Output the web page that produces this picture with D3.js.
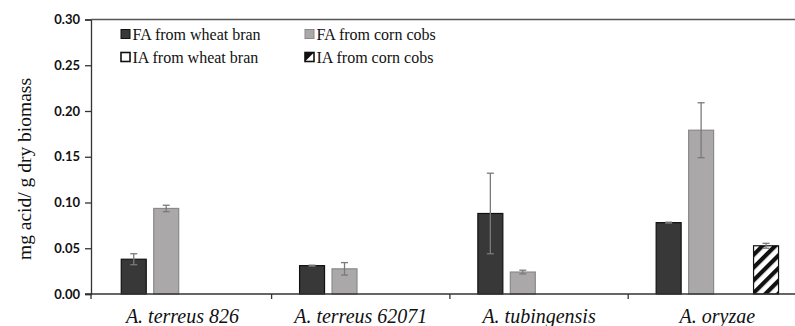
<!DOCTYPE html>
<html>
<head>
<meta charset="utf-8">
<script src="https://cdn.jsdelivr.net/npm/d3@7"></script>
<style>
  body { margin: 0; background: #fff; }
  svg { display: block; }
  .ytick text { font: bold 13px Lato, "Open Sans", sans-serif; fill: #111; }
</style>
</head>
<body>
<div id="chart"></div>
<script>
// data
var strains = ['A. terreus 826', 'A. terreus 62071', 'A. tubingensis', 'A. oryzae'];
var series = ['FA from wheat bran', 'FA from corn cobs', 'IA from wheat bran', 'IA from corn cobs'];
var faWheat = [0.038, 0.031, 0.088, 0.078];
var faWheatErr = [0.006, 0.0005, 0.044, 0.0005];
var faCorn = [0.0935, 0.0275, 0.024, 0.179];
var faCornErr = [0.0035, 0.0068, 0.002, 0.030];
var iaWheat = [0, 0, 0, 0];
var iaWheatErr = [0, 0, 0, 0];
var iaCorn = [0, 0, 0, 0.0527];
var iaCornErr = [0, 0, 0, 0.0027];
var yTicks = [0, 0.05, 0.10, 0.15, 0.20, 0.25, 0.30];

var W = 795, H = 326;
var serif = '"Liberation Serif", "Times New Roman", "DejaVu Serif", serif';
var svg = d3.select('#chart').append('svg').attr('width', W).attr('height', H);

var defs = svg.append('defs');
var pat = defs.append('pattern')
    .attr('id', 'hatch')
    .attr('patternUnits', 'userSpaceOnUse')
    .attr('width', 9).attr('height', 9)
    .attr('patternTransform', 'rotate(45)');
pat.append('rect').attr('width', 9).attr('height', 9).attr('fill', '#fff');
pat.append('rect').attr('width', 4.2).attr('height', 9).attr('fill', '#111');

var plotLeft = 91, plotTop = 19.5, plotBottom = 294, groupW = 178.3;

var y = d3.scaleLinear().domain([0, 0.30]).range([plotBottom, plotTop]);
var x0 = d3.scaleBand().domain(strains).range([93.3, 93.3 + 4 * groupW]).padding(0);
var x1 = d3.scaleBand().domain(series).range([0, groupW]).paddingInner(0.2).paddingOuter(0.846);

var styles = [
  { fill: '#383838', stroke: '#111' },
  { fill: '#aaa8a8', stroke: '#8a8a8a' },
  { fill: '#fff', stroke: '#111' },
  { fill: 'url(#hatch)', stroke: '#111' }
];

var values = [faWheat, faCorn, iaWheat, iaCorn];
var errs = [faWheatErr, faCornErr, iaWheatErr, iaCornErr];

var rows = [];
strains.forEach(function(s, i) {
  series.forEach(function(k, j) {
    rows.push({ strain: s, key: k, idx: j, v: values[j][i], e: errs[j][i] });
  });
});

// bars
svg.append('g').selectAll('rect')
  .data(rows.filter(function(d) { return d.v > 0; }))
  .join('rect')
    .attr('x', function(d) { return x0(d.strain) + x1(d.key) + 0.5; })
    .attr('y', function(d) { return y(d.v); })
    .attr('width', x1.bandwidth() - 1)
    .attr('height', function(d) { return y(0) - y(d.v); })
    .attr('fill', function(d) { return styles[d.idx].fill; })
    .attr('stroke', function(d) { return styles[d.idx].stroke; })
    .attr('stroke-width', 1.2);

// error bars
var eg = svg.append('g').attr('stroke', '#7a7a7a').attr('stroke-width', 1.3);
rows.filter(function(d) { return d.v > 0; }).forEach(function(d) {
  var cx = x0(d.strain) + x1(d.key) + x1.bandwidth() / 2;
  var lo = y(d.v - d.e), hi = y(d.v + d.e);
  eg.append('line').attr('x1', cx).attr('x2', cx).attr('y1', lo).attr('y2', hi);
  eg.append('line').attr('x1', cx - 3.5).attr('x2', cx + 3.5).attr('y1', hi).attr('y2', hi);
  eg.append('line').attr('x1', cx - 3.5).attr('x2', cx + 3.5).attr('y1', lo).attr('y2', lo);
});

// y axis
var yAxis = svg.append('g')
  .attr('class', 'ytick')
  .attr('transform', 'translate(' + plotLeft + ',0)')
  .call(d3.axisLeft(y).tickValues(yTicks).tickFormat(d3.format('.2f')).tickSize(6).tickPadding(5));
yAxis.select('.domain').attr('stroke', '#333').attr('stroke-width', 1.3);
yAxis.selectAll('.tick line').attr('stroke', '#333').attr('stroke-width', 1.3);

// x axis line, top frame and group separators
var xg = svg.append('g');
xg.append('line').attr('x1', plotLeft - 6).attr('x2', W).attr('y1', plotBottom).attr('y2', plotBottom)
  .attr('stroke', '#333').attr('stroke-width', 1.3);
xg.append('line').attr('x1', plotLeft).attr('x2', W).attr('y1', plotTop).attr('y2', plotTop)
  .attr('stroke', '#555').attr('stroke-width', 1.3);
xg.selectAll('.sep')
  .data([plotLeft].concat(strains.slice(1).map(function(s) { return x0(s); })))
  .join('line')
    .attr('x1', function(d) { return d; }).attr('x2', function(d) { return d; })
    .attr('y1', plotBottom).attr('y2', plotBottom + 5)
    .attr('stroke', '#333').attr('stroke-width', 1.3);

xg.selectAll('.cat')
  .data(strains)
  .join('text')
    .attr('x', function(d) { return x0(d) + x0.bandwidth() / 2; })
    .attr('y', 323)
    .attr('text-anchor', 'middle')
    .style('font-family', serif)
    .style('font-size', '20px')
    .style('font-style', 'italic')
    .style('fill', '#111')
    .text(function(d) { return d; });

// y title
svg.append('text')
  .attr('transform', 'translate(31,169) rotate(-90)')
  .attr('text-anchor', 'middle')
  .style('font-family', serif)
  .style('font-size', '19.5px')
  .style('fill', '#111')
  .text('mg acid/ g dry biomass');

// legend
var legPos = [[121, 34], [305, 34], [121, 57], [305, 57]];
var lg = svg.append('g').selectAll('g')
  .data(series)
  .join('g')
    .attr('transform', function(d, i) { return 'translate(' + legPos[i][0] + ',' + legPos[i][1] + ')'; });
lg.append('rect')
  .attr('x', 0).attr('y', -4.5).attr('width', 9).attr('height', 9)
  .attr('fill', function(d, i) { return i === 3 ? '#fff' : styles[i].fill; })
  .attr('stroke', function(d, i) { return styles[i].stroke; })
  .attr('stroke-width', function(d, i) { return i >= 2 ? 1.6 : 1; });
lg.filter(function(d, i) { return i === 3; }).append('path')
  .attr('d', 'M0,4.5 L9,-4.5 L0,-4.5 Z').attr('fill', '#111');
lg.append('text')
  .attr('x', 11.5).attr('y', 5.5)
  .style('font-family', serif)
  .style('font-size', '16px')
  .style('fill', '#111')
  .text(function(d) { return d; });
</script>
</body>
</html>
